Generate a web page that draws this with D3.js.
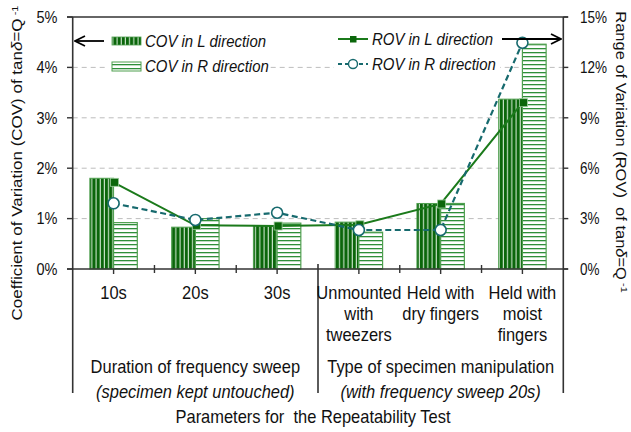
<!DOCTYPE html>
<html><head><meta charset="utf-8">
<script src="https://cdn.jsdelivr.net/npm/d3@7"></script>
<style>
body{margin:0;background:#fff;}
svg{font-family:"Liberation Sans",Arial,sans-serif;}
text{white-space:pre;}
</style></head>
<body>
<svg id="chart" width="631" height="432"></svg>
<script>
// ---- data ----
const categories = ["10s","20s","30s","Unmounted","Dry","Moist"];
const catLabels = [["10s"],["20s"],["30s"],["Unmounted","with","tweezers"],["Held with","dry fingers"],["Held with","moist","fingers"]];
const covL = [1.80, 0.83, 0.86, 0.93, 1.30, 3.37];
const covR = [0.92, 1.00, 0.91, 0.73, 1.30, 4.46];
const rovL = [5.16, 2.60, 2.56, 2.63, 3.87, 9.90];
const rovR = [3.91, 2.92, 3.35, 2.32, 2.32, 13.47];
const leftTicks = [0,1,2,3,4,5];
const rightTicks = [0,3,6,9,12,15];

const svg = d3.select("#chart");
const X0 = 72.7, X1 = 563.3, Y0 = 269, Y1 = 17;
const x = d3.scaleBand().domain(categories).range([X0, X1]).padding(0);
const yL = d3.scaleLinear().domain([0,5]).range([Y0, Y1]);
const yR = d3.scaleLinear().domain([0,15]).range([Y0, Y1]);
const bw = x.bandwidth()*0.29;
const cx = c => x(c) + x.bandwidth()/2;

const darkG = "#0b660b", teal = "#176a6e";

// helper: horizontally condensed text
function txt(parent, xx, yy, str, size, sx, anchor, italic){
  return parent.append("text")
    .attr("transform", `translate(${xx},${yy}) scale(${sx},1)`)
    .attr("text-anchor", anchor).attr("dy","0.35em")
    .attr("font-size", size).attr("font-style", italic ? "italic" : null)
    .attr("fill","#111").text(str);
}

// patterns
const defs = svg.append("defs");
const pv = defs.append("pattern").attr("id","vstripe").attr("patternUnits","userSpaceOnUse")
  .attr("width",4.2).attr("height",10);
pv.append("rect").attr("width",4.2).attr("height",10).attr("fill",darkG);
pv.append("rect").attr("x",3.1).attr("width",1.1).attr("height",10).attr("fill","#cfe6cf");
const ph = defs.append("pattern").attr("id","hstripe").attr("patternUnits","userSpaceOnUse")
  .attr("width",10).attr("height",4);
ph.append("rect").attr("width",10).attr("height",4).attr("fill","#fff");
ph.append("rect").attr("y",0).attr("width",10).attr("height",1.3).attr("fill","#2f8f3a");
defs.append("marker").attr("id","arrow").attr("viewBox","0 0 12 12").attr("refX",11).attr("refY",6)
  .attr("markerWidth",12).attr("markerHeight",12).attr("markerUnits","userSpaceOnUse").attr("orient","auto")
  .append("path").attr("d","M1,1 L11,6 L1,11").attr("fill","none").attr("stroke","#000").attr("stroke-width",1.8);

// gridlines
svg.append("g").selectAll("line").data(leftTicks.filter(t=>t>0&&t<5)).join("line")
  .attr("x1",X0).attr("x2",X1).attr("y1",d=>yL(d)).attr("y2",d=>yL(d))
  .attr("stroke","#bdbdbd").attr("stroke-width",1).attr("stroke-dasharray","5,4");

// legend backgrounds
svg.append("rect").attr("x",108).attr("y",28).attr("width",162).attr("height",48).attr("fill","#fff");
svg.append("rect").attr("x",334).attr("y",28).attr("width",166).attr("height",48).attr("fill","#fff");

// bars
const barsG = svg.append("g");
barsG.selectAll("rect.l").data(categories).join("rect").attr("class","l")
  .attr("x",c=>cx(c)-bw).attr("width",bw)
  .attr("y",(c,i)=>yL(covL[i])).attr("height",(c,i)=>Y0-yL(covL[i]))
  .attr("fill","url(#vstripe)").attr("stroke","#4f9f4f").attr("stroke-width",1);
barsG.selectAll("rect.r").data(categories).join("rect").attr("class","r")
  .attr("x",c=>cx(c)).attr("width",bw)
  .attr("y",(c,i)=>yL(covR[i])).attr("height",(c,i)=>Y0-yL(covR[i]))
  .attr("fill","url(#hstripe)").attr("stroke","#4f9f4f").attr("stroke-width",1.2);

// ROV lines
const lineL = d3.line().x((d,i)=>cx(categories[i])).y(d=>yR(d));
svg.append("path").attr("d",lineL(rovL)).attr("fill","none").attr("stroke","#1b7a1b").attr("stroke-width",2);
svg.append("path").attr("d",lineL(rovR)).attr("fill","none").attr("stroke",teal).attr("stroke-width",2.2).attr("stroke-dasharray","6,3.5");
svg.append("g").selectAll("rect").data(rovL).join("rect")
  .attr("x",(d,i)=>cx(categories[i])+1-4).attr("y",d=>yR(d)-4).attr("width",8).attr("height",8)
  .attr("fill",darkG).attr("stroke","#9ccc9c").attr("stroke-width",0.8);
svg.append("g").selectAll("circle").data(rovR).join("circle")
  .attr("cx",(d,i)=>cx(categories[i])).attr("cy",d=>yR(d)).attr("r",5.5)
  .attr("fill","#fff").attr("stroke",teal).attr("stroke-width",1.6);

// axes
const ax = svg.append("g").attr("stroke","#333").attr("stroke-width",1.6);
ax.append("line").attr("x1",X0).attr("x2",X0).attr("y1",Y1).attr("y2",393);
ax.append("line").attr("x1",X1).attr("x2",X1).attr("y1",Y1).attr("y2",393);
ax.append("line").attr("x1",67).attr("x2",568).attr("y1",Y1).attr("y2",Y1);
ax.append("line").attr("x1",67).attr("x2",568).attr("y1",Y0).attr("y2",Y0);
ax.append("line").attr("x1",x(categories[3])).attr("x2",x(categories[3])).attr("y1",264).attr("y2",393);
svg.append("g").attr("stroke","#333").attr("stroke-width",1.4).selectAll("line").data(leftTicks).join("line")
  .attr("x1",67).attr("x2",X0).attr("y1",d=>yL(d)).attr("y2",d=>yL(d));
svg.append("g").attr("stroke","#333").attr("stroke-width",1.4).selectAll("line").data(rightTicks).join("line")
  .attr("x1",X1).attr("x2",X1+5).attr("y1",d=>yR(d)).attr("y2",d=>yR(d));
svg.append("g").attr("stroke","#333").attr("stroke-width",1.4).selectAll("line").data(categories).join("line")
  .attr("x1",c=>cx(c)).attr("x2",c=>cx(c)).attr("y1",Y0).attr("y2",Y0+5);
svg.append("g").attr("stroke","#333").attr("stroke-width",1.4).selectAll("line").data([1,2,4,5]).join("line")
  .attr("x1",i=>x(categories[i])).attr("x2",i=>x(categories[i])).attr("y1",Y0-4).attr("y2",Y0+4);

// tick labels
const tl = svg.append("g");
leftTicks.forEach(d => txt(tl, 57.5, yL(d), d+"%", 16.5, 0.88, "end"));
rightTicks.forEach(d => txt(tl, 580, yR(d), d+"%", 16.5, 0.82, "start"));

// category labels
const cl = svg.append("g");
categories.forEach((c,i) => catLabels[i].forEach((s,j) => txt(cl, cx(c), 293 + j*21, s, 18.5, 0.89, "middle")));

// group labels
const g1 = (x(categories[0])+x(categories[2])+x.bandwidth())/2;
const g2 = (x(categories[3])+x(categories[5])+x.bandwidth())/2;
const gl = svg.append("g");
txt(gl, g1, 367, "Duration of frequency sweep", 18.5, 0.89, "middle");
txt(gl, g1, 392, "(specimen kept untouched)", 18.5, 0.89, "middle", true);
txt(gl, g2, 367, "Type of specimen manipulation", 18.5, 0.89, "middle");
txt(gl, g2, 392, "(with frequency sweep 20s)", 18.5, 0.89, "middle", true);
txt(gl, 313, 417, "Parameters for  the Repeatability Test", 18.5, 0.89, "middle");

// axis titles
function title(t, xx, yy, rot, size){
  const tx = svg.append("text").attr("transform",`translate(${xx},${yy}) rotate(${rot}) scale(1,0.88)`)
    .attr("text-anchor","middle").attr("dy","0.35em").attr("font-size",size).attr("fill","#111");
  tx.append("tspan").text(t);
  tx.append("tspan").attr("font-style","italic").text("δ");
  tx.append("tspan").text("=Q");
  tx.append("tspan").attr("font-size",11).attr("baseline-shift","super").text(" -1");
}
title("Coefficient of Variation (COV) of tan", 17, 163, -90, 17);
title("Range of Variation (ROV)  of tan", 621, 152, 90, 16.5);

// legend
const lg = svg.append("g");
svg.append("rect").attr("x",112).attr("y",37).attr("width",29).attr("height",8).attr("fill","url(#vstripe)").attr("stroke","#4f9f4f").attr("stroke-width",0.8);
svg.append("rect").attr("x",112).attr("y",62).attr("width",29).attr("height",9).attr("fill","url(#hstripe)").attr("stroke","#4f9f4f").attr("stroke-width",1);
txt(lg, 145, 41, "COV in L direction", 17, 0.88, "start", true);
txt(lg, 145, 66, "COV in R direction", 17, 0.88, "start", true);
svg.append("line").attr("x1",338).attr("x2",368).attr("y1",39).attr("y2",39).attr("stroke","#1b7a1b").attr("stroke-width",2);
svg.append("rect").attr("x",350).attr("y",36).attr("width",6.5).attr("height",6.5).attr("fill",darkG);
svg.append("line").attr("x1",338).attr("x2",368).attr("y1",64).attr("y2",64).attr("stroke",teal).attr("stroke-width",2).attr("stroke-dasharray","4,3");
svg.append("circle").attr("cx",353).attr("cy",64).attr("r",4.5).attr("fill","#fff").attr("stroke",teal).attr("stroke-width",1.4);
txt(lg, 372, 39, "ROV in L direction", 17, 0.88, "start", true);
txt(lg, 372, 64, "ROV in R direction", 17, 0.88, "start", true);

// arrows
svg.append("line").attr("x1",104).attr("x2",75).attr("y1",41).attr("y2",41).attr("stroke","#000").attr("stroke-width",1.8).attr("marker-end","url(#arrow)");
svg.append("line").attr("x1",502).attr("x2",561).attr("y1",39).attr("y2",39).attr("stroke","#000").attr("stroke-width",1.8).attr("marker-end","url(#arrow)");
</script>
</body></html>
